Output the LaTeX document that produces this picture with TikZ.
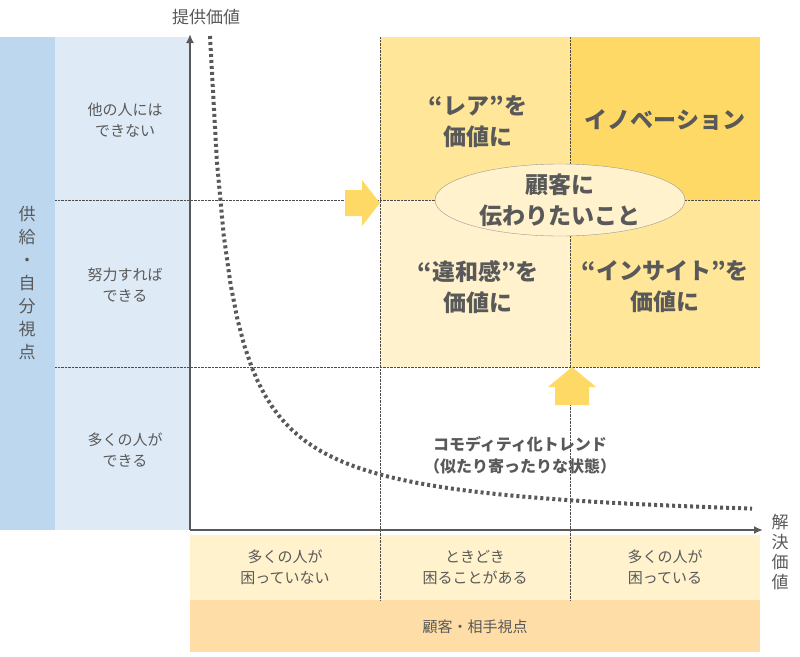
\documentclass[tikz,border=0pt]{standalone}
\usepackage{fontspec}
\setmainfont{Noto Sans CJK JP}
\usetikzlibrary{arrows.meta}
\definecolor{bluedark}{HTML}{BDD7EE}
\definecolor{bluelight}{HTML}{DEEBF7}
\definecolor{ylA}{HTML}{FFE699}
\definecolor{ylB}{HTML}{FFD966}
\definecolor{ylC}{HTML}{FFF2CC}
\definecolor{peach}{HTML}{FFDDA6}
\definecolor{txtgray}{HTML}{595959}
\tikzset{
  rowlabel/.style={align=center,text=txtgray,font=\fontsize{15}{21}\selectfont},
  cell/.style={align=center,text=txtgray,font=\fontsize{23}{31}\selectfont\bfseries},
  grid/.style={densely dotted,black!70,thin},
  axis/.style={txtgray,line width=2.5pt,-{Latex[length=9pt,width=8pt]}}
}
\begin{document}
\begin{tikzpicture}[x=1pt,y=-1pt]
  \useasboundingbox (0,0) rectangle (800,656);

  % left bars
  \fill[bluedark] (0,37) rectangle (55,530);
  \fill[bluelight] (55,37) rectangle (190,530);
  \node[rowlabel,font=\fontsize{17}{23}\selectfont] (supply) at (27,283) {供\\給\\・\\自\\分\\視\\点};
  \node[rowlabel] (rowA) at (125,120) {他の人には\\できない};
  \node[rowlabel] (rowB) at (125,285) {努力すれば\\できる};
  \node[rowlabel] (rowC) at (125,450) {多くの人が\\できる};

  % quadrants
  \fill[ylA] (380,37) rectangle (570,200);
  \fill[ylB] (570,37) rectangle (760,200);
  \fill[ylC] (380,200) rectangle (570,367);
  \fill[ylA] (570,200) rectangle (760,367);

  % bottom bands
  \fill[ylC] (190,535) rectangle (760,600);
  \fill[peach] (190,600) rectangle (760,652);

  % dotted grid
  \draw[grid] (55,200) -- (760,200);
  \draw[grid] (55,367) -- (760,367);
  \draw[grid] (380,37) -- (380,600);
  \draw[grid] (570,37) -- (570,600);

  % block arrows
  \fill[ylB] (345,190) -- (362,190) -- (362,180) -- (380,203) -- (362,226)
    -- (362,216) -- (345,216) -- cycle;
  \fill[ylB] (555,405) -- (555,387) -- (548,387) -- (572,367) -- (596,387)
    -- (589,387) -- (589,405) -- cycle;

  % quadrant texts
  \node[cell] (rare) at (478,122) {“レア”を\\価値に};
  \node[cell] (inno) at (665,120) {イノベーション};
  \node[cell] (iwa) at (478,287) {“違和感”を\\価値に};
  \node[cell] (insight) at (665,287) {“インサイト”を\\価値に};

  % ellipse
  \draw[fill=ylC,draw=black!40] (560,200) ellipse (125 and 36);
  \node[cell] (want) at (560,200) {顧客に\\伝わりたいこと};

  % axes
  \coordinate (origin) at (190,530);
  \coordinate (ytop) at (190,34);
  \coordinate (xend) at (763,530);
  \draw[axis] (origin) -- (ytop);
  \draw[axis] (origin) -- (xend);
  \node[text=txtgray,font=\fontsize{17}{20}\selectfont] (ylab) at (206,17) {提供価値};
  \node[text=txtgray,align=center,font=\fontsize{17}{20}\selectfont] (xlab) at (780,552) {解\\決\\価\\値};

  % commodity trend curve
  \draw[txtgray,line width=4pt,dash pattern=on 3pt off 3pt,samples=80,domain=210:752]
    plot (\x,{526-9800/(\x-190)});
  \node[align=center,text=txtgray,font=\fontsize{16}{22}\selectfont\bfseries] (trend) at (520,455)
    {コモディティ化トレンド\\（似たり寄ったりな状態）};

  % bottom labels
  \node[rowlabel] (colA) at (285,567) {多くの人が\\困っていない};
  \node[rowlabel] (colB) at (475,567) {ときどき\\困ることがある};
  \node[rowlabel] (colC) at (665,567) {多くの人が\\困っている};
  \node[rowlabel] (client) at (475,627) {顧客・相手視点};
\end{tikzpicture}
\end{document}
